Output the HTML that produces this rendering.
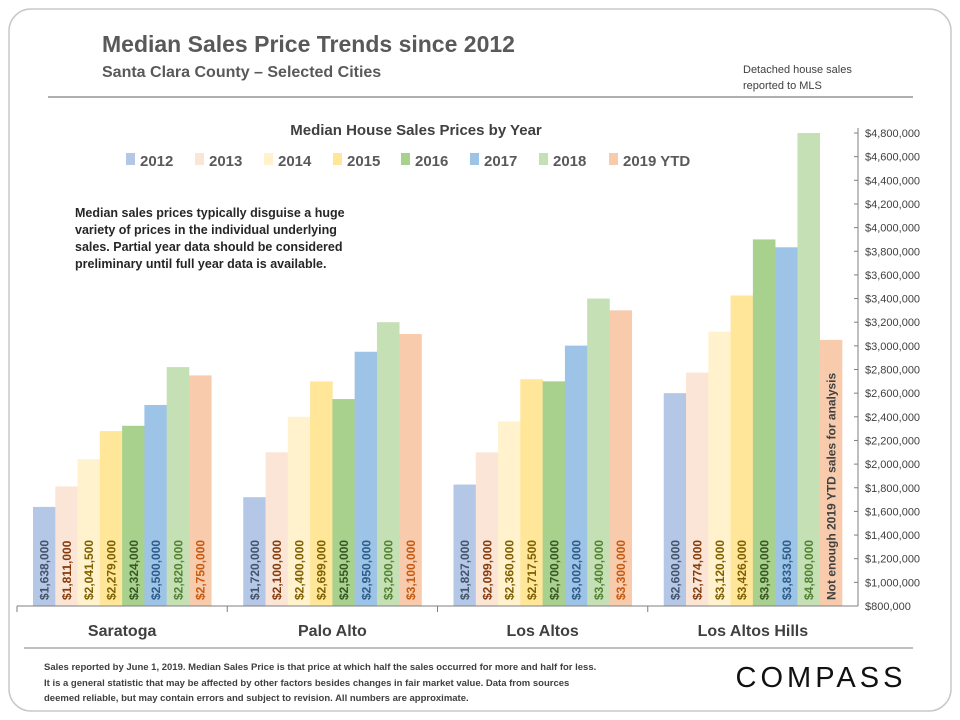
<!DOCTYPE html>
<html><head><meta charset="utf-8"><style>
body{margin:0;background:#fff;font-family:"Liberation Sans",sans-serif;}
#wrap{position:relative;width:960px;height:720px;overflow:hidden;}
</style></head><body>
<div id="wrap">
<svg id="chart" width="960" height="720" xmlns="http://www.w3.org/2000/svg">
<rect x="9" y="9" width="942" height="702" rx="22" fill="#fff" stroke="#c8c8c8" stroke-width="1.5"/>
<text x="102" y="52" font-size="23" font-weight="bold" fill="#595959">Median Sales Price Trends since 2012</text>
<text x="102" y="77" font-size="16" font-weight="bold" fill="#595959">Santa Clara County – Selected Cities</text>
<text x="743" y="73" font-size="11" fill="#404040">Detached house sales</text>
<text x="743" y="89" font-size="11" fill="#404040">reported to MLS</text>
<line x1="48" y1="97" x2="913" y2="97" stroke="#7f7f7f" stroke-width="1.2"/>
<text x="416" y="135" font-size="15" font-weight="bold" fill="#404040" text-anchor="middle">Median House Sales Prices by Year</text>
<g id="legend"></g>
<text font-size="12.5" font-weight="bold" fill="#262626">
<tspan x="75" y="217">Median sales prices typically disguise a huge</tspan>
<tspan x="75" y="234">variety of prices in the individual underlying</tspan>
<tspan x="75" y="251">sales. Partial year data should be considered</tspan>
<tspan x="75" y="268">preliminary until full year data is available.</tspan>
</text>
<g id="bars"></g>
<g id="axis"></g>
<line x1="24" y1="648" x2="913" y2="648" stroke="#7f7f7f" stroke-width="1"/>
<text font-size="9.5" font-weight="bold" fill="#404040">
<tspan x="44" y="670">Sales reported by June 1, 2019. Median Sales Price is that price at which half the sales occurred for more and half for less.</tspan>
<tspan x="44" y="686">It is a general statistic that may be affected by other factors besides changes in fair market value. Data from sources</tspan>
<tspan x="44" y="701">deemed reliable, but may contain errors and subject to revision.  All numbers are approximate.</tspan>
</text>
<text x="821" y="687" font-size="29" fill="#111" text-anchor="middle" letter-spacing="4">COMPASS</text>
</svg>
</div>
<script>
const cities = ["Saratoga","Palo Alto","Los Altos","Los Altos Hills"];
const years = ["2012","2013","2014","2015","2016","2017","2018","2019 YTD"];
const v2012 = [1638000,1720000,1827000,2600000];
const v2013 = [1811000,2100000,2099000,2774000];
const v2014 = [2041500,2400000,2360000,3120000];
const v2015 = [2279000,2699000,2717500,3426000];
const v2016 = [2324000,2550000,2700000,3900000];
const v2017 = [2500000,2950000,3002000,3833500];
const v2018 = [2820000,3200000,3400000,4800000];
const v2019 = [2750000,3100000,3300000,3050000];
const labels2019 = ["$2,750,000","$3,100,000","$3,300,000","Not enough 2019 YTD sales for analysis"];
const yTicks = [800000,1000000,1200000,1400000,1600000,1800000,2000000,2200000,2400000,2600000,2800000,3000000,3200000,3400000,3600000,3800000,4000000,4200000,4400000,4600000,4800000];
const series=[v2012,v2013,v2014,v2015,v2016,v2017,v2018,v2019];
const fills=["#b4c7e7","#fbe5d6","#fff2cc","#ffe699","#a9d18e","#9dc3e6","#c5e0b4","#f8cbad"];
const lblCol=["#44546a","#843c0c","#7f6000","#7f6000","#385723","#2e5c8a","#548235","#c55a11"];
const NS="http://www.w3.org/2000/svg";
const y0=606,y1=133,vmin=800000,vmax=4800000;
function Y(v){return y0-(v-vmin)/(vmax-vmin)*(y0-y1);}
const gx0=17,gx1=858,gw=(gx1-gx0)/cities.length,pad=16,bw=(gw-2*pad)/years.length;
function X(ci,si){return gx0+ci*gw+pad+si*bw;}
function fmt(v){return "$"+v.toLocaleString("en-US");}
function mk(tag,attrs,parent){const e=document.createElementNS(NS,tag);for(const k in attrs)e.setAttribute(k,attrs[k]);parent.appendChild(e);return e;}
const bars=document.getElementById("bars"),axis=document.getElementById("axis"),legend=document.getElementById("legend");
const lx=[126,195,264,333,401,470,539,609];
years.forEach((yr,i)=>{
  const r=mk("rect",{x:lx[i],y:153,width:9,height:12,fill:fills[i]},legend);
  
  
  const t=mk("text",{x:lx[i]+14,y:166,"font-size":15,"font-weight":"bold",fill:"#595959"},legend);
  t.textContent=yr;
  
  
});
cities.forEach((c,ci)=>{
  series.forEach((s,si)=>{
    const x=X(ci,si),top=Y(s[ci]);
    const r=mk("rect",{x:x,y:top,width:bw+0.3,height:y0-top,fill:fills[si]},bars);
    
    
    const lab=si===7?labels2019[ci]:fmt(s[ci]);
    const cx=x+bw/2+4.5,ly=600;
    const t=mk("text",{x:cx,y:ly,transform:`rotate(-90 ${cx} ${ly})`,"font-size":12,"font-weight":"bold",fill:(si===7&&ci===3)?"#404040":lblCol[si]},bars);
    t.textContent=lab;
    
    
  });
  const ct=mk("text",{x:gx0+ci*gw+gw/2,y:636,"font-size":16,"font-weight":"bold",fill:"#404040","text-anchor":"middle"},axis);
  ct.textContent=c;
  
  
  const tk=mk("line",{x1:gx0+ci*gw,y1:y0,x2:gx0+ci*gw,y2:y0+6,stroke:"#7f7f7f"},axis);
  
  
});
const bl=mk("line",{x1:gx0,y1:y0,x2:gx1,y2:y0,stroke:"#7f7f7f"},axis);


const yl=mk("line",{x1:gx1,y1:y1-5,x2:gx1,y2:y0,stroke:"#7f7f7f"},axis);


yTicks.forEach(v=>{
  const y=Y(v);
  const l=mk("line",{x1:gx1-4,y1:y,x2:gx1,y2:y,stroke:"#7f7f7f"},axis);
  
  
  const t=mk("text",{x:865,y:y+4,"font-size":11,fill:"#404040"},axis);
  t.textContent=fmt(v);
  
  
});
</script>
</body></html>
